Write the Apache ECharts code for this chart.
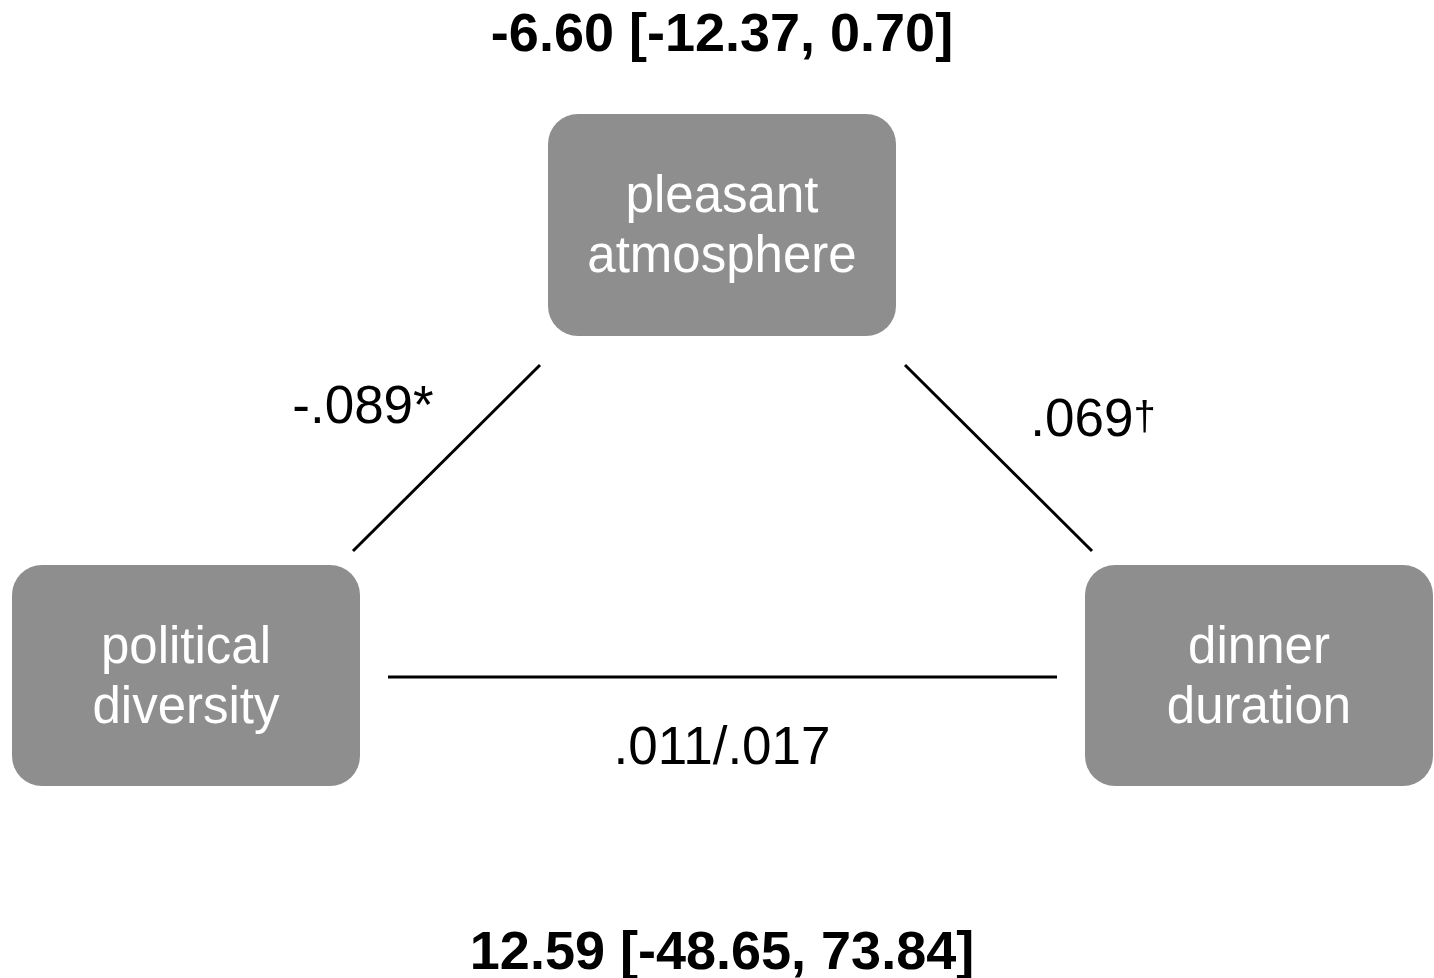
<!DOCTYPE html>
<html>
<head>
<meta charset="utf-8">
<script src="https://cdn.jsdelivr.net/npm/echarts@6/dist/echarts.min.js"></script>
<style>
  html, body { margin: 0; padding: 0; background: #fff; }
  #main { width: 1434px; height: 978px; }
</style>
</head>
<body>
<div id="main"></div>
<script>
// variables (box labels)
var nodeNames = ['pleasant\natmosphere', 'political\ndiversity', 'dinner\nduration'];
// path coefficients: a (diversity -> atmosphere), b (atmosphere -> duration), c (direct/total)
var pathLabels = ['-.089*', '.069{d|\u2020}', '.011/.017'];
// effect estimates [CI]
var effectLabels = ['-6.60 [-12.37, 0.70]', '12.59 [-48.65, 73.84]'];

// layout in page units
var nodeBoxes = [[548, 114, 896, 336], [12, 565, 360, 786], [1085, 565, 1433, 786]];
var edges = [[[353, 551], [540, 365]], [[905, 365], [1092, 551]], [[388, 677], [1057, 677]]];
var pathPos = [[363, 408], [1093, 421], [722, 749]];
var effectPos = [[722, 36], [722, 954]];

var font = '"Liberation Sans", Arial, Helvetica, sans-serif';
var myChart = echarts.init(document.getElementById('main'));

var series = [];

series.push({
  type: 'custom',
  coordinateSystem: 'cartesian2d',
  silent: true,
  data: nodeBoxes.map(function (b, i) { return [b[0], b[1], b[2], b[3], i]; }),
  renderItem: function (params, api) {
    var p1 = api.coord([api.value(0), api.value(1)]);
    var p2 = api.coord([api.value(2), api.value(3)]);
    var x = Math.min(p1[0], p2[0]), y = Math.min(p1[1], p2[1]);
    var w = Math.abs(p2[0] - p1[0]), h = Math.abs(p2[1] - p1[1]);
    return {
      type: 'group',
      children: [{
        type: 'rect',
        shape: { x: x, y: y, width: w, height: h, r: 30 },
        style: { fill: '#8e8e8e' }
      }, {
        type: 'text',
        style: {
          x: x + w / 2, y: y + h / 2 + 3,
          text: nodeNames[api.value(4)],
          fill: '#fff',
          font: '51px ' + font,
          align: 'center', verticalAlign: 'middle',
          lineHeight: 60
        }
      }]
    };
  }
});

edges.forEach(function (e) {
  series.push({
    type: 'line',
    silent: true,
    symbol: 'none',
    data: e,
    lineStyle: { color: '#000', width: 3 }
  });
});

function textSeries(pos, labels, weight, size) {
  return {
    type: 'custom',
    coordinateSystem: 'cartesian2d',
    silent: true,
    data: pos.map(function (p, i) { return [p[0], p[1], i]; }),
    renderItem: function (params, api) {
      var c = api.coord([api.value(0), api.value(1)]);
      return {
        type: 'text',
        style: {
          x: c[0], y: c[1],
          text: labels[api.value(2)],
          fill: '#000',
          font: weight + ' ' + size + 'px ' + font,
          align: 'center', verticalAlign: 'middle',
          rich: { d: { fontSize: 40, fontFamily: font, fill: '#000', padding: [0, 0, 4, 0] } }
        }
      };
    }
  };
}

series.push(textSeries(pathPos, pathLabels, 'normal', 53));
series.push(textSeries(effectPos, effectLabels, 'bold', 54));

var option = {
  animation: false,
  grid: { left: 0, right: 0, top: 0, bottom: 0 },
  xAxis: { type: 'value', min: 0, max: 1434, show: false },
  yAxis: { type: 'value', min: 0, max: 978, inverse: true, show: false },
  series: series
};
myChart.setOption(option);
</script>
</body>
</html>
